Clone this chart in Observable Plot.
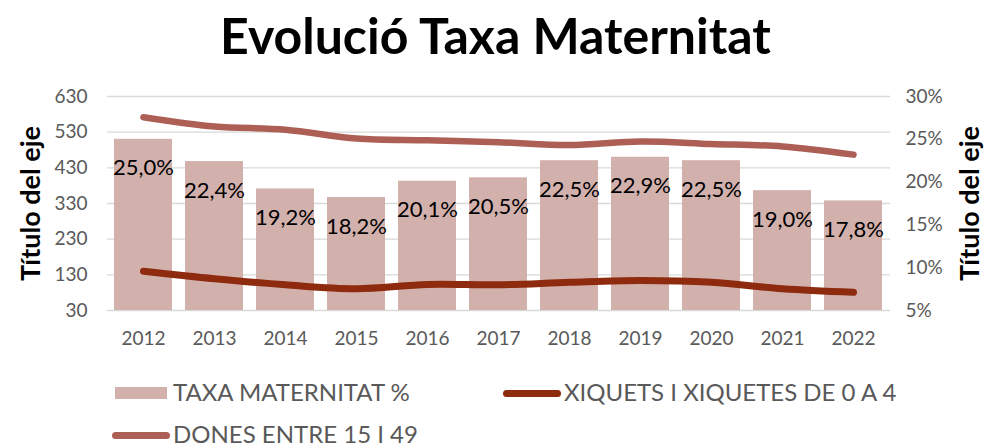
<!DOCTYPE html>
<html><head><meta charset="utf-8">
<script src="https://cdn.jsdelivr.net/npm/d3@7"></script>
<script src="https://cdn.jsdelivr.net/npm/@observablehq/plot@0.6"></script>
<style>
body{margin:0;background:#fff;font-family:Lato,sans-serif;}
#wrap{position:relative;width:991px;height:444px;overflow:hidden;background:#fff;}
#title{position:absolute;left:0;top:10px;width:991px;text-align:center;font-weight:700;font-size:50px;line-height:50px;color:#000;}
#chart{position:absolute;left:0;top:70px;}
.lt{position:absolute;font-size:24px;color:#595959;white-space:nowrap;line-height:24px;}
.sw{position:absolute;}
</style></head>
<body><div id="wrap"><div id="title">Evolució Taxa Maternitat</div><div id="chart"></div><div id="legend"></div></div>
<script>
const years = ["2012","2013","2014","2015","2016","2017","2018","2019","2020","2021","2022"];
const taxaMaternitat = [25.0,22.4,19.2,18.2,20.1,20.5,22.5,22.9,22.5,19.0,17.8];
const xiquets = [140,119,102,91,103,102,109,114,109,91,81];
const dones = [572,546,537,512,507,502,494,504,497,490,467];
const leftTicks = [30,130,230,330,430,530,630];
const rightTicks = [5,10,15,20,25,30];
const seriesNames = ["TAXA MATERNITAT %","XIQUETS I XIQUETES DE 0 A 4","DONES ENTRE 15 I 49"];
const axisTitle = "Título del eje";
const colors = {bar:"#d2b1ad", xiq:"#8e2a0e", don:"#ad5f55"};

const data = years.map((y,i)=>({year:y, pct:taxaMaternitat[i], xiq:xiquets[i], don:dones[i]}));
const toLeft = p => 30 + (p-5)*24;
const fromLeft = v => Math.round((v-30)/24 + 5);

const chart = Plot.plot({
  width:991, height:290, marginTop:26, marginBottom:50, marginLeft:107, marginRight:101,
  style:{fontFamily:"Lato, sans-serif", fontSize:"19px", color:"#595959", background:"#fff"},
  x:{type:"band", domain:years, paddingInner:0.18, paddingOuter:0.1, label:null},
  y:{domain:[30,630], label:null},
  marks:[
    Plot.ruleY(leftTicks, {stroke:"#d9d9d9", strokeWidth:1.4}),
    Plot.barY(data, {x:"year", y1:30, y2:d=>toLeft(d.pct), fill:colors.bar}),
    Plot.line(data, {x:"year", y:"don", stroke:colors.don, strokeWidth:6.5, curve:"catmull-rom", strokeLinecap:"round", strokeLinejoin:"round"}),
    Plot.line(data, {x:"year", y:"xiq", stroke:colors.xiq, strokeWidth:7, curve:"catmull-rom", strokeLinecap:"round", strokeLinejoin:"round"}),
    Plot.text(data, {x:"year", y:d=>toLeft(d.pct), text:d=>d.pct.toFixed(1).replace(".",",")+"%", dy:29, fill:"#000", fontSize:22}),
    Plot.axisX({tickSize:0, tickPadding:21, label:null}),
    Plot.axisY(leftTicks, {anchor:"left", tickSize:0, tickPadding:20, label:null}),
    Plot.axisY(rightTicks.map(toLeft), {anchor:"right", tickSize:0, tickPadding:15, tickFormat:v=>fromLeft(v)+"%", label:null}),
    Plot.text([axisTitle], {frameAnchor:"left", rotate:-90, dx:-76, textAnchor:"middle", lineAnchor:"middle", fontWeight:"bold", fontSize:27, fill:"#000"}),
    Plot.text([axisTitle], {frameAnchor:"right", rotate:-90, dx:80, textAnchor:"middle", lineAnchor:"middle", fontWeight:"bold", fontSize:27, fill:"#000"})
  ]
});
document.getElementById("chart").appendChild(chart);

const legend = document.getElementById("legend");
const items = [
  {name:seriesNames[0], kind:"rect", color:colors.bar, sx:115, tx:173, y:393},
  {name:seriesNames[1], kind:"line", color:colors.xiq, sx:503, tx:564, y:393},
  {name:seriesNames[2], kind:"line", color:colors.don, sx:112, tx:173, y:435}
];
items.forEach(it=>{
  const sw = document.createElement("div");
  sw.className="sw";
  sw.style.left = it.sx+"px";
  sw.style.background = it.color;
  if(it.kind==="rect"){ sw.style.width="52px"; sw.style.height="12px"; sw.style.top=(it.y-6)+"px"; }
  else { sw.style.width="58px"; sw.style.height="7px"; sw.style.top=(it.y-3.5)+"px"; sw.style.borderRadius="4px"; }
  legend.appendChild(sw);
  const t = document.createElement("div");
  t.className="lt";
  t.textContent = it.name;
  t.style.left = it.tx+"px";
  t.style.top = (it.y-13)+"px";
  legend.appendChild(t);
});
</script>
</body></html>
